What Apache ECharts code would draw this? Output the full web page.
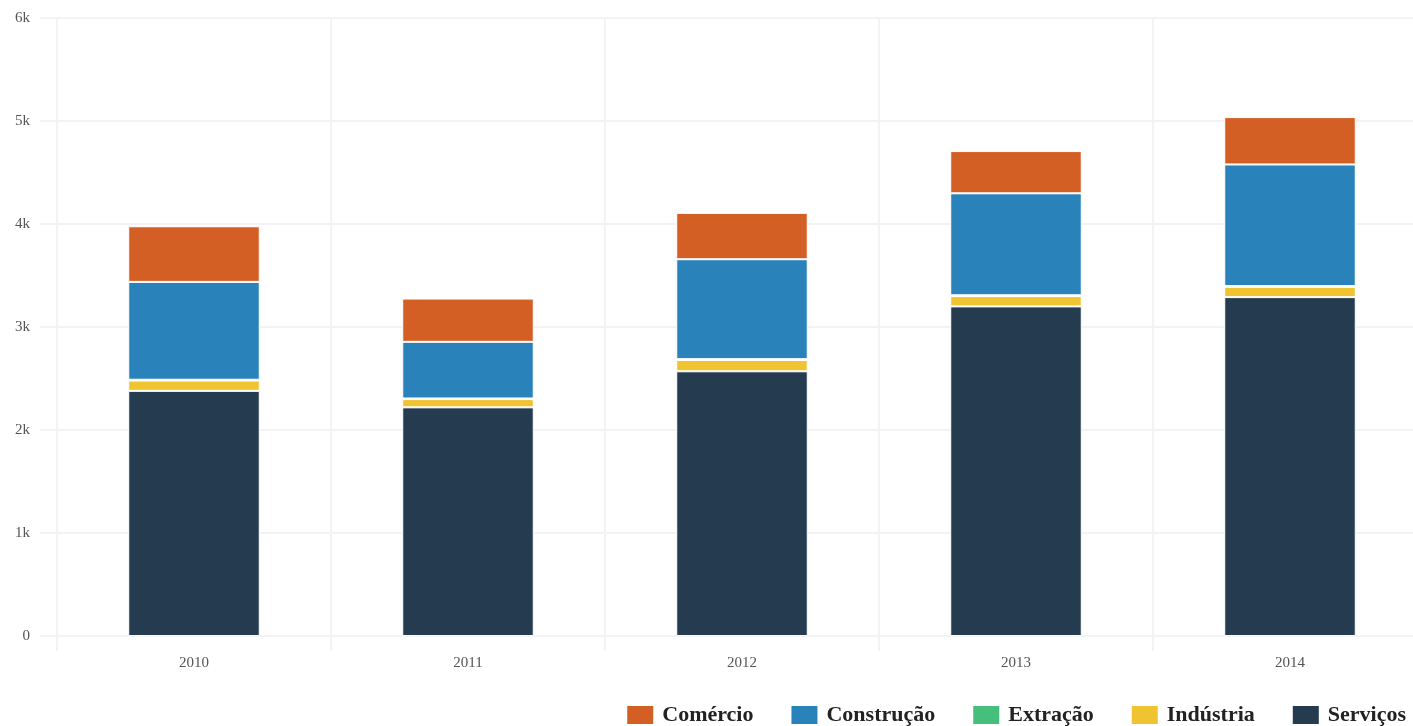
<!DOCTYPE html>
<html>
<head>
<meta charset="utf-8">
<script src="https://cdn.jsdelivr.net/npm/echarts@6/dist/echarts.min.js"></script>
<style>
  html, body { margin: 0; padding: 0; background: #fff; }
  #chart { width: 1413px; height: 726px; }
</style>
</head>
<body>
<div id="chart"></div>
<script>
  // anos
  const years = ["2010", "2011", "2012", "2013", "2014"];
  // valores por setor
  const servicos   = [2380, 2220, 2570, 3200, 3290];
  const industria  = [100, 80, 110, 100, 100];
  const extracao   = [8, 6, 8, 8, 8];
  const construcao = [950, 550, 970, 990, 1180];
  const comercio   = [540, 420, 450, 410, 460];

  const colors = {
    "Comércio": "#d35f24",
    "Construção": "#2a82bb",
    "Extração": "#47bf7c",
    "Indústria": "#f0c331",
    "Serviços": "#253b4f"
  };
  const gridColor = "#f3f3f5";
  const fontFam = "'Liberation Serif', 'DejaVu Serif', serif";

  // monta uma série empilhada
  function mk(name, data) {
    return {
      name: name,
      type: "bar",
      stack: "total",
      data: data,
      barWidth: "48%",
      itemStyle: {
        color: colors[name],
        borderColor: "#ffffff",
        borderWidth: 1
      }
    };
  }

  const chart = echarts.init(document.getElementById("chart"));
  const option = {
    animation: false,
    // a área do gráfico passa da borda direita (cortada, como no original)
    grid: { left: 57, width: 1370, top: 18, bottom: 90, outerBoundsMode: "none" },
    legend: {
      data: ["Comércio", "Construção", "Extração", "Indústria", "Serviços"],
      right: 2,
      top: 699,
      icon: "rect",
      itemWidth: 28,
      itemHeight: 20,
      itemGap: 36,
      textStyle: {
        fontFamily: fontFam, fontWeight: "bold", fontSize: 22, color: "#222",
        padding: [0, 0, 0, 3]
      }
    },
    xAxis: {
      type: "category",
      data: years,
      axisLine: { show: true, lineStyle: { color: gridColor, width: 2 } },
      axisTick: { show: true, length: 15, lineStyle: { color: gridColor, width: 2 } },
      axisLabel: { color: "#555", fontSize: 15, fontFamily: fontFam, margin: 20 },
      splitLine: { show: true, lineStyle: { color: gridColor, width: 2 } }
    },
    yAxis: {
      type: "value",
      min: 0,
      max: 6000,
      interval: 1000,
      axisLine: { show: false },
      axisTick: { show: true, length: 17, lineStyle: { color: gridColor, width: 2 } },
      axisLabel: {
        color: "#555",
        fontSize: 15,
        fontFamily: fontFam,
        margin: 27,
        formatter: function (v) { return v === 0 ? "0" : (v / 1000) + "k"; }
      },
      splitLine: { show: true, lineStyle: { color: gridColor, width: 2 } }
    },
    series: [
      mk("Serviços", servicos),
      mk("Indústria", industria),
      mk("Extração", extracao),
      mk("Construção", construcao),
      mk("Comércio", comercio)
    ]
  };
  chart.setOption(option);
</script>
</body>
</html>
